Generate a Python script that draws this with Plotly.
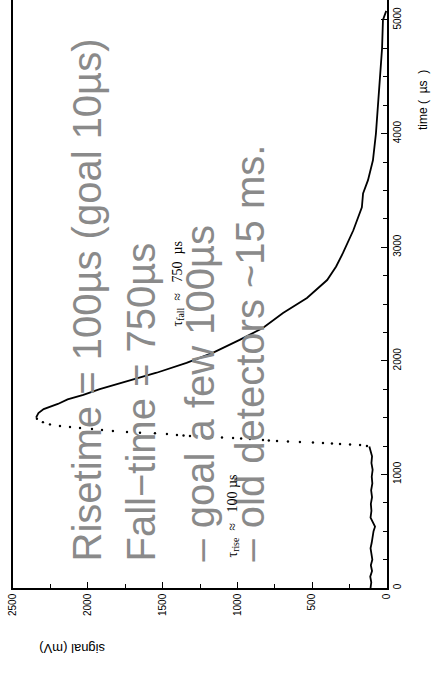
import plotly.graph_objects as go

# Baseline before the pulse (time in µs, signal in mV)
t_base = [0, 50, 100, 150, 200, 250, 300, 350, 400, 450, 500, 540, 580, 620, 680,
          740, 800, 860, 920, 980, 1040, 1100, 1160, 1200, 1245]
s_base = [110, 105, 112, 100, 108, 98, 104, 110, 102, 96, 90, 80, 95, 110, 104,
          108, 100, 106, 98, 102, 96, 104, 100, 110, 118]

# Rising edge (sparse samples, drawn as dots)
t_rise = [1250, 1259, 1263, 1268, 1272, 1276, 1281, 1285, 1290, 1294, 1298, 1303, 1312,
          1316, 1320, 1325, 1329, 1334, 1338, 1343, 1347, 1356, 1362, 1366, 1373,
          1382, 1391, 1400, 1408, 1417, 1426, 1440, 1460, 1490]
s_rise = [134, 180, 247, 314, 368, 428, 495, 582, 662, 735, 790, 829, 916,
          975, 1029, 1103, 1170, 1230, 1317, 1360, 1404, 1471, 1551, 1651, 1738,
          1832, 1905, 1972, 2052, 2119, 2186, 2253, 2300, 2340]

# Falling edge
t_fall = [1500, 1540, 1575, 1620, 1660, 1700, 1750, 1816, 1895, 1982, 2070, 2184, 2289,
          2421, 2553, 2711, 2830, 2947, 3149, 3351, 3474, 3590, 3765, 4000, 4230,
          4480, 4750, 5000, 5080]
s_fall = [2346, 2330, 2295, 2200, 2135, 2030, 1920, 1740, 1540, 1340, 1165, 985, 830,
          695, 535, 400, 340, 295, 225, 168, 160, 127, 94, 74, 60,
          47, 33, 27, 5]

x_ticks = [0, 500, 1000, 1500, 2000, 2500]
y_ticks = [0, 1000, 2000, 3000, 4000, 5000]

fig = go.Figure()
fig.add_trace(go.Scatter(x=s_base, y=t_base, mode="lines",
                         line=dict(color="black", width=1.8), hoverinfo="skip"))
fig.add_trace(go.Scatter(x=s_rise, y=t_rise, mode="markers",
                         marker=dict(color="black", size=2.4), hoverinfo="skip"))
fig.add_trace(go.Scatter(x=s_fall, y=t_fall, mode="lines",
                         line=dict(color="black", width=1.8), hoverinfo="skip"))

W, H = 432, 673
L, R, T, B = 13, 45, 0, 85
pw, ph = W - L - R, H - T - B


def px(x):
    return (x - L) / pw


def py(y):
    return (H - B - y) / ph


gray = "#8a8a8a"
big = dict(family="Liberation Sans, Arial", size=40, color=gray)
lines = [
    ("Risetime = 100µs (goal 10µs)", 86, 564),
    ("Fall\u2212time = 750µs", 140, 564),
    ("\u2013 goal a few 100µs", 199, 564),
    ("\u2013 old detectors ~15 ms.", 249, 564),
]
ann = []
for txt, cx, by in lines:
    ann.append(dict(text=txt, x=px(cx), y=py(by), xref="paper", yref="paper",
                    xanchor="center", yanchor="bottom", textangle=-90,
                    showarrow=False, font=big))

serif = dict(family="Liberation Serif, Times New Roman", size=14, color="black")
nb = "\u00a0"
ann.append(dict(text="τ<sub>rise</sub>" + nb * 2 + "≈" + nb * 3 + "100" + nb + "µs",
                x=px(233), y=py(560), xref="paper",
                yref="paper", xanchor="center", yanchor="bottom", textangle=-90,
                showarrow=False, font=serif))
ann.append(dict(text="τ<sub>fall</sub>" + nb * 2 + "≈" + nb * 3 + "750" + nb * 2 + "µs",
                x=px(178), y=py(329), xref="paper",
                yref="paper", xanchor="center", yanchor="bottom", textangle=-90,
                showarrow=False, font=serif))
ann.append(dict(text="signal (mV)", x=px(72), y=py(649), xref="paper", yref="paper",
                xanchor="center", yanchor="middle", textangle=180, showarrow=False,
                font=dict(family="Liberation Sans, Arial", size=13, color="black")))
ann.append(dict(text="time" + nb + "(" + nb * 2 + "µs" + nb * 2 + ")", x=px(423), y=py(100),
                xref="paper", yref="paper", xanchor="center", yanchor="middle",
                textangle=-90, showarrow=False,
                font=dict(family="Liberation Sans, Arial", size=12, color="black")))

tickfont = dict(family="Liberation Sans, Arial", size=10, color="black")
fig.update_layout(
    width=W, height=H,
    margin=dict(l=L, r=R, t=T, b=B, pad=0),
    paper_bgcolor="white", plot_bgcolor="white",
    showlegend=False,
    annotations=ann,
    xaxis=dict(range=[2500, 0], tickvals=x_ticks, ticktext=[str(v) for v in x_ticks],
               tickangle=-90, ticks="inside", ticklen=6, tickwidth=1.2, tickcolor="black",
               showline=True, linecolor="black", linewidth=1.5, mirror=False,
               showgrid=False, zeroline=False, tickfont=tickfont,
               minor=dict(dtick=250, ticks="inside", ticklen=4, tickwidth=1.2,
                          tickcolor="black", showgrid=False)),
    yaxis=dict(range=[0, 5176], side="right", tickvals=y_ticks,
               ticktext=[str(v) for v in y_ticks], tickangle=-90, ticks="inside",
               ticklen=6, tickwidth=1.2, tickcolor="black",
               showline=True, linecolor="black", linewidth=1.5, mirror=True,
               showgrid=False, zeroline=False, tickfont=tickfont,
               minor=dict(dtick=250, ticks="inside", ticklen=4, tickwidth=1.2,
                          tickcolor="black", showgrid=False)),
)

fig.write_html("out.html")
